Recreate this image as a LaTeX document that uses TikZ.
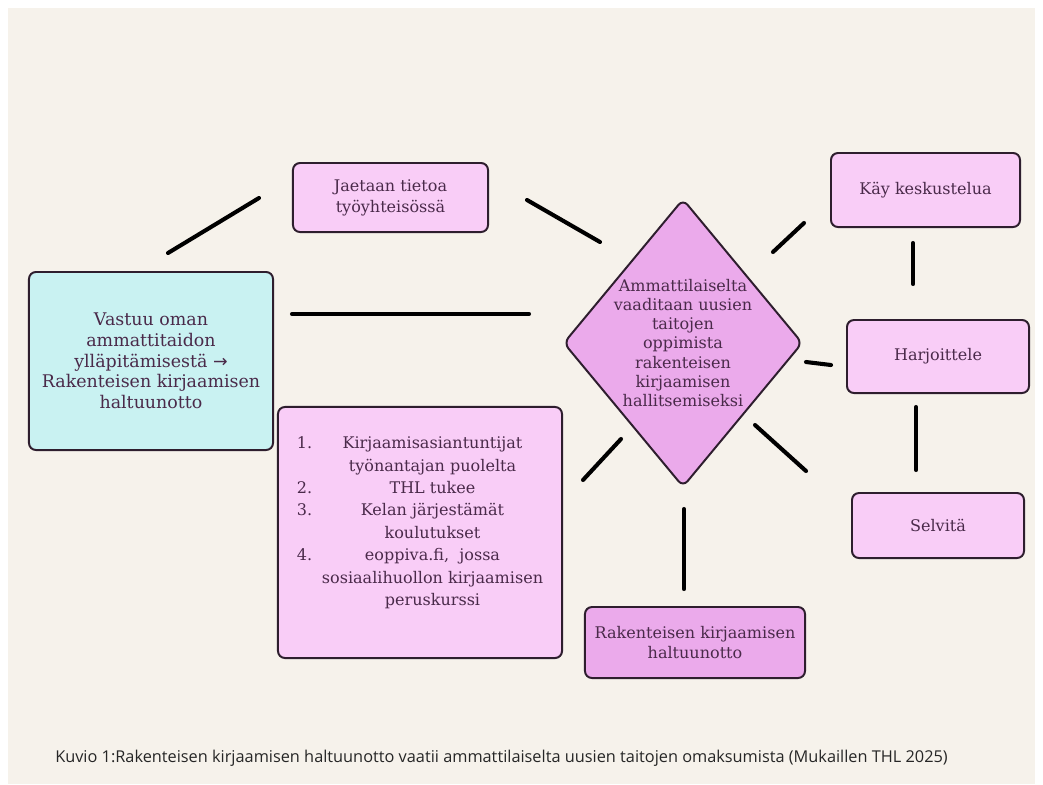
\documentclass[tikz,border=0pt]{standalone}
\usepackage{fontspec}
\setmainfont{DejaVu Serif}
\newfontfamily\capfont{Open Sans}
\newfontfamily\arrowfont{DejaVu Sans}
\usetikzlibrary{shapes.geometric}
\definecolor{bgbeige}{HTML}{F6F2EB}
\definecolor{boxcyan}{HTML}{C9F2F2}
\definecolor{boxpink}{HTML}{F9CDF7}
\definecolor{boxlilac}{HTML}{EBAAEB}
\definecolor{rimdark}{HTML}{2E1E2E}
\definecolor{inkplum}{HTML}{4A2A4A}

\begin{document}
\begin{tikzpicture}[x=0.025cm, y=-0.025cm]
	\tikzstyle{box} = [rectangle, draw=rimdark, line width=1.4pt, rounded corners=5pt, fill=boxpink, text=inkplum, align=center, inner sep=0pt, font={\fontsize{11.4}{14.9}\selectfont}]
	\tikzstyle{link} = [line width=2.9pt, line cap=round]
	\useasboundingbox (0,0) rectangle (1043,784);
	\fill[white] (0,0) rectangle (1043,784);
	\fill[bgbeige] (8,8) rectangle (1035,784);
	\node[box, fill=boxcyan, minimum width=6.1cm, minimum height=4.45cm, font={\fontsize{12.4}{14.7}\selectfont}] (Vastuu) at (151, 361) {Vastuu oman\\ammattitaidon\\ylläpitämisestä {\arrowfont →}\\Rakenteisen kirjaamisen\\haltuunotto};
	\node[box, minimum width=4.875cm, minimum height=1.725cm] (Jaetaan) at (390.5, 197.5) {Jaetaan tietoa\\työyhteisössä};
	\node[box, diamond, fill=boxlilac, minimum width=5.975cm, minimum height=7.2cm, label={[text=inkplum, align=center, font={\fontsize{11.4}{13.7}\selectfont}]center:Ammattilaiselta\\vaaditaan uusien\\taitojen\\oppimista\\rakenteisen\\kirjaamisen\\hallitsemiseksi}] (Ammat) at (683, 343) {};
	\node[box, minimum width=4.725cm, minimum height=1.85cm] (Kay) at (925.5, 190) {Käy keskustelua};
	\node[box, minimum width=4.55cm, minimum height=1.825cm] (Harjoittele) at (938, 356.5) {Harjoittele};
	\node[box, minimum width=4.3cm, minimum height=1.625cm] (Selvita) at (938, 525.5) {Selvitä};
	\node[box, fill=boxlilac, minimum width=5.5cm, minimum height=1.775cm] (Rakenne) at (695, 642.5) {Rakenteisen kirjaamisen\\haltuunotto};
	\node[box, minimum width=7.1cm, minimum height=6.275cm, font={\fontsize{11.4}{15.9}\selectfont}] (Tuki) at (420, 532.5) {\begin{tabular}{@{}p{0.625cm}@{}c@{}}
		1. & Kirjaamisasiantuntijat\\
		   & työnantajan puolelta\\
		2. & THL tukee\\
		3. & Kelan järjestämät\\
		   & koulutukset\\
		4. & eoppiva.fi, \ jossa\\
		   & sosiaalihuollon kirjaamisen\\
		   & peruskurssi\\[14pt]
	\end{tabular}};
	\node[anchor=base west, inner sep=0pt, text=black!85, font={\capfont\fontsize{11.6}{13.5}\selectfont}] (Kuvio) at (55, 762) {Kuvio 1:Rakenteisen kirjaamisen haltuunotto vaatii ammattilaiselta uusien taitojen omaksumista (Mukaillen THL 2025)};
	\coordinate (VastuuJ) at (168, 253);
	\coordinate (JaetaanV) at (259, 198);
	\coordinate (JaetaanA) at (527, 200);
	\coordinate (AmmatJ) at (600, 242);
	\coordinate (VastuuA) at (292, 314);
	\coordinate (AmmatV) at (529, 314);
	\coordinate (AmmatK) at (773, 252);
	\coordinate (KayA) at (804, 223);
	\coordinate (KayH) at (913, 243);
	\coordinate (HarjoitteleK) at (913, 284);
	\coordinate (AmmatH) at (806, 362);
	\coordinate (HarjoitteleA) at (831, 365);
	\coordinate (HarjoitteleS) at (916, 407);
	\coordinate (SelvitaH) at (916, 470);
	\coordinate (AmmatS) at (755, 425);
	\coordinate (SelvitaA) at (806, 471);
	\coordinate (AmmatT) at (621, 439);
	\coordinate (TukiA) at (583, 480);
	\coordinate (AmmatR) at (684, 509);
	\coordinate (RakenneA) at (684, 589);
	\draw [link] (VastuuJ)--(JaetaanV);
	\draw [link] (JaetaanA)--(AmmatJ);
	\draw [link] (VastuuA)--(AmmatV);
	\draw [link] (AmmatK)--(KayA);
	\draw [link] (KayH)--(HarjoitteleK);
	\draw [link] (AmmatH)--(HarjoitteleA);
	\draw [link] (HarjoitteleS)--(SelvitaH);
	\draw [link] (AmmatS)--(SelvitaA);
	\draw [link] (AmmatT)--(TukiA);
	\draw [link] (AmmatR)--(RakenneA);
\end{tikzpicture}
\end{document}
